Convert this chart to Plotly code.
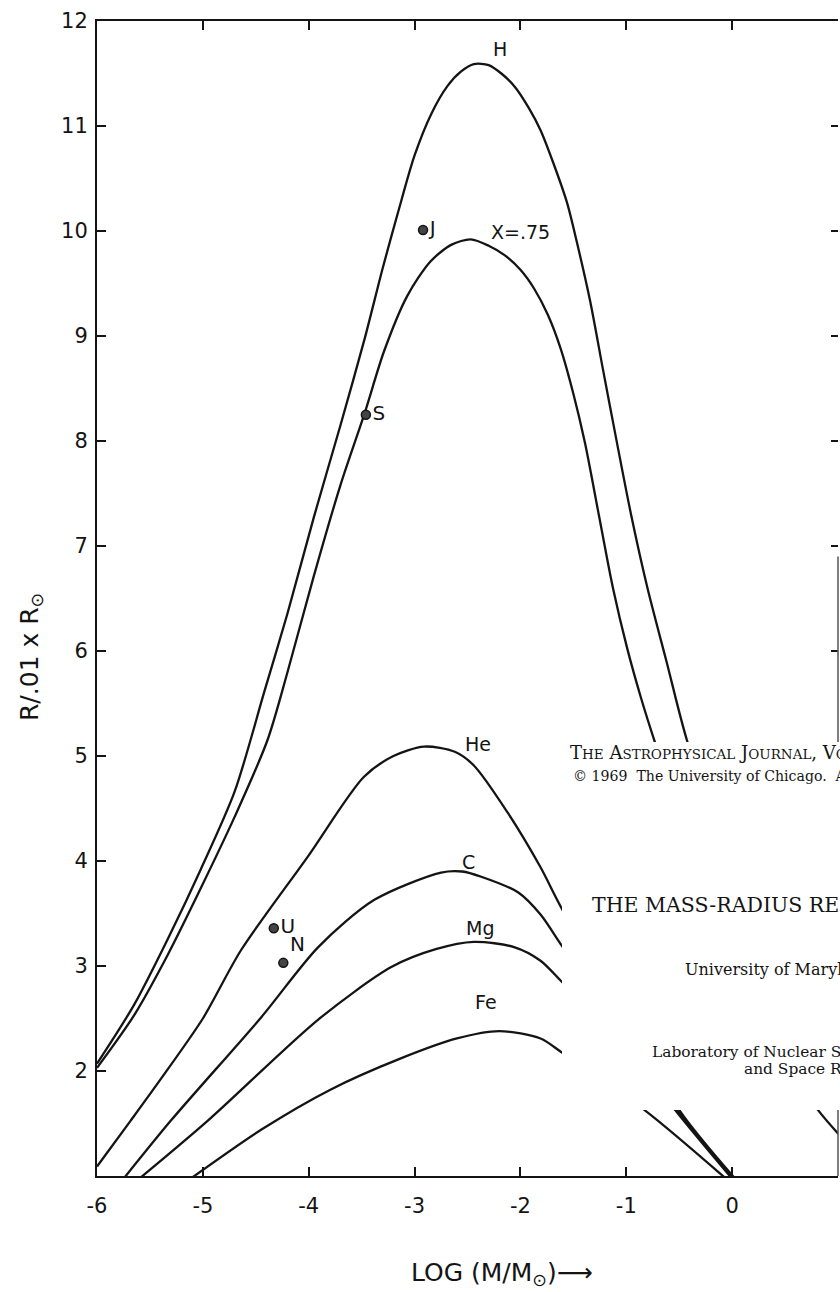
import plotly.graph_objects as go

# ---- mass-radius curves: log10(M/Msun) vs R in units of 0.01 Rsun ----
H_LOGM = [-6.00, -5.65, -5.33, -5.02, -4.70, -4.42, -4.20, -3.95, -3.70, -3.47,
          -3.30, -3.15, -3.00, -2.84, -2.69, -2.56, -2.44, -2.30, -2.18, -2.05,
          -1.92, -1.81, -1.69, -1.56, -1.466, -1.343, -1.22, -1.097, -0.955, -0.80,
          -0.62, -0.427, -0.10, 0.35, 0.80, 1.20]
H_R = [2.07, 2.63, 3.26, 3.92, 4.66, 5.61, 6.36, 7.28, 8.15, 8.98,
       9.65, 10.20, 10.72, 11.12, 11.38, 11.52, 11.59, 11.58, 11.50, 11.37,
       11.17, 10.96, 10.65, 10.27, 9.89, 9.34, 8.68, 8.03, 7.30, 6.60,
       5.90, 5.15, 4.20, 3.00, 2.20, 1.60]

X75_LOGM = [-6.00, -5.65, -5.33, -5.02, -4.70, -4.39, -4.20, -3.95, -3.70, -3.47,
            -3.29, -3.07, -2.85, -2.65, -2.47, -2.30, -2.15, -2.00, -1.87, -1.74,
            -1.62, -1.50, -1.39, -1.26, -1.126, -0.99, -0.86, -0.729, -0.45, -0.10,
            0.30, 0.81, 1.05]
X75_R = [2.03, 2.53, 3.11, 3.74, 4.42, 5.15, 5.80, 6.72, 7.58, 8.27,
         8.85, 9.38, 9.71, 9.87, 9.92, 9.86, 9.77, 9.63, 9.45, 9.20,
         8.88, 8.45, 7.98, 7.30, 6.60, 6.02, 5.55, 5.13, 4.30, 3.30,
         2.40, 1.63, 1.35]

HE_LOGM = [-6.00, -5.68, -5.40, -5.00, -4.64, -4.01, -3.48, -3.20, -2.91, -2.62,
           -2.44, -2.12, -1.81, -1.60, -1.00, -0.50, 0.05]
HE_R = [1.09, 1.53, 1.92, 2.50, 3.15, 4.04, 4.80, 5.00, 5.09, 5.04,
        4.91, 4.46, 3.94, 3.53, 2.55, 1.63, 0.95]

C_LOGM = [-5.80, -5.30, -4.45, -3.91, -3.38, -2.75, -2.55, -2.37, -2.02, -1.81,
          -1.60, -1.00, -0.52, 0.03]
C_R = [0.91, 1.53, 2.51, 3.18, 3.63, 3.89, 3.90, 3.85, 3.70, 3.49,
       3.18, 2.35, 1.63, 0.95]

MG_LOGM = [-5.63, -4.95, -3.91, -3.22, -2.80, -2.44, -2.06, -1.81, -1.60, -1.00,
           -0.54, 0.02]
MG_R = [0.95, 1.53, 2.49, 2.99, 3.16, 3.23, 3.18, 3.05, 2.84, 2.25,
        1.63, 0.95]

FE_LOGM = [-5.15, -4.45, -3.80, -3.13, -2.60, -2.20, -1.81, -1.60, -0.83, -0.03]
FE_R = [0.95, 1.44, 1.82, 2.12, 2.31, 2.38, 2.31, 2.17, 1.63, 0.95]

CURVES = [(H_LOGM, H_R), (X75_LOGM, X75_R), (HE_LOGM, HE_R),
          (C_LOGM, C_R), (MG_LOGM, MG_R), (FE_LOGM, FE_R)]

# curve labels
CURVE_LABELS = ["H", "X=.75", "He", "C", "Mg", "Fe"]
CURVE_LABEL_LOGM = [-2.19, -2.00, -2.40, -2.49, -2.38, -2.33]
CURVE_LABEL_R = [11.73, 9.99, 5.11, 3.99, 3.36, 2.66]

# planets
PLANET_NAMES = ["J", "S", "U", "N"]
PLANET_LOGM = [-2.92, -3.46, -4.33, -4.24]
PLANET_R = [10.01, 8.25, 3.36, 3.03]
PLANET_TEXTPOS = ["middle right", "middle right", "middle right", "top right"]

# axes
X_TICKS = [-6, -5, -4, -3, -2, -1, 0, 1]
X_TICK_TEXT = ["-6", "-5", "-4", "-3", "-2", "-1", "0", "1"]
Y_TICKS = [2, 3, 4, 5, 6, 7, 8, 9, 10, 11, 12]
Y_TICK_TEXT = ["2", "3", "4", "5", "6", "7", "8", "9", "10", "11", "12"]
Y_TICKS_RIGHT = [2, 3, 4, 5, 6, 7, 8, 9, 10, 11]

# ---- page geometry ----
W, HGT = 840, 1292
ML, MR, MT, MB = 97, 2, 21, 116
INK = "#141414"
SANS = "DejaVu Sans"
SERIF = "DejaVu Serif"


def paper(px, py):
    """pixel position on the page -> paper coordinates"""
    pw = W - ML - MR
    ph = HGT - MT - MB
    return (px - ML) / pw, (HGT - MB - py) / ph


fig = go.Figure()

for xs, ys in CURVES:
    fig.add_trace(go.Scatter(
        x=xs, y=ys, mode="lines",
        line=dict(color=INK, width=2.3, shape="spline", smoothing=0.8),
        hoverinfo="skip", showlegend=False))

fig.add_trace(go.Scatter(
    x=PLANET_LOGM, y=PLANET_R, mode="markers+text",
    text=PLANET_NAMES, textposition=PLANET_TEXTPOS,
    marker=dict(size=9, color="#444444", line=dict(color=INK, width=1.5)),
    textfont=dict(family=SANS, size=20, color=INK),
    hoverinfo="skip", showlegend=False, cliponaxis=False))

# carrier trace for the right-hand tick axis
fig.add_trace(go.Scatter(x=[None], y=[None], yaxis="y2", mode="lines",
                         hoverinfo="skip", showlegend=False))

annotations = []
for name, lx, ly in zip(CURVE_LABELS, CURVE_LABEL_LOGM, CURVE_LABEL_R):
    annotations.append(dict(x=lx, y=ly, xref="x", yref="y", text=name,
                            xanchor="center", yanchor="middle", showarrow=False,
                            font=dict(family=SANS, size=19, color=INK)))

# axis titles
ax, ay = paper(502, 1274)
annotations.append(dict(x=ax, y=ay, xref="paper", yref="paper",
                        text="LOG (M/M<sub>⊙</sub>)⟶", showarrow=False,
                        xanchor="center", yanchor="middle",
                        font=dict(family=SANS, size=25, color=INK)))
ax, ay = paper(31, 657)
annotations.append(dict(x=ax, y=ay, xref="paper", yref="paper",
                        text="R/.01 x R<sub>⊙</sub>", showarrow=False, textangle=-90,
                        xanchor="center", yanchor="middle",
                        font=dict(family=SANS, size=25, color=INK)))

# journal page lying over the lower right of the figure
SC = '<span style="font-size:13.5px">'
page_lines = [
    (568, 752, 18, "T" + SC + "HE</span> A" + SC + "STROPHYSICAL</span> J"
     + SC + "OURNAL</span>, V" + SC + "OL</span>. 158, N" + SC + "OVEMBER</span> 1969"),
    (571, 776, 14.1, "© 1969  The University of Chicago.  All rights reserved.  Printed in U.S.A."),
    (590, 905, 20.5, "THE MASS-RADIUS RELATION FOR COLD SPHERES OF LOW MASS"),
    (683, 969, 16, "University of Maryland"),
    (650, 1052, 15.4, "Laboratory of Nuclear Studies and Center for Radiophysics"),
    (742, 1069, 15.4, "and Space Research, Cornell University"),
]
for px, py, size, txt in page_lines:
    ax, ay = paper(px, py)
    annotations.append(dict(x=ax, y=ay, xref="paper", yref="paper", text=txt,
                            xanchor="left", yanchor="middle", showarrow=False,
                            font=dict(family=SERIF, size=size, color="#141414")))

bx0, by0 = paper(562, 1110)
bx1, by1 = paper(860, 742)
shapes = [
    # right frame edge
    dict(type="line", xref="paper", yref="y", x0=1, x1=1, y0=1, y1=6.9,
         line=dict(color="#555555", width=1.5), layer="above"),
    # white page panel
    dict(type="rect", xref="paper", yref="paper", x0=bx0, x1=bx1, y0=by0, y1=by1,
         fillcolor="white", line=dict(width=0), layer="above"),
]

fig.update_layout(
    width=W, height=HGT,
    margin=dict(l=ML, r=MR, t=MT, b=MB, pad=0),
    paper_bgcolor="white", plot_bgcolor="white",
    showlegend=False,
    xaxis=dict(range=[-6, 1], tickvals=X_TICKS, ticktext=X_TICK_TEXT,
               ticks="inside", ticklen=9, tickwidth=2, tickcolor=INK,
               showline=True, linewidth=2, linecolor=INK, mirror="ticks",
               showgrid=False, zeroline=False, ticklabelstandoff=10,
               tickfont=dict(family=SANS, size=21, color=INK)),
    yaxis=dict(range=[1, 12], tickvals=Y_TICKS, ticktext=Y_TICK_TEXT,
               ticks="inside", ticklen=9, tickwidth=2, tickcolor=INK,
               showline=True, linewidth=2, linecolor=INK, mirror=False,
               showgrid=False, zeroline=False, ticklabelstandoff=3,
               tickfont=dict(family=SANS, size=21, color=INK)),
    yaxis2=dict(range=[1, 12], overlaying="y", side="right",
                tickvals=Y_TICKS_RIGHT, ticks="inside", ticklen=7, tickwidth=2,
                tickcolor=INK, showticklabels=False, showline=False,
                showgrid=False, zeroline=False),
    annotations=annotations,
    shapes=shapes,
)

fig.write_html("out.html", config={"displayModeBar": False})
